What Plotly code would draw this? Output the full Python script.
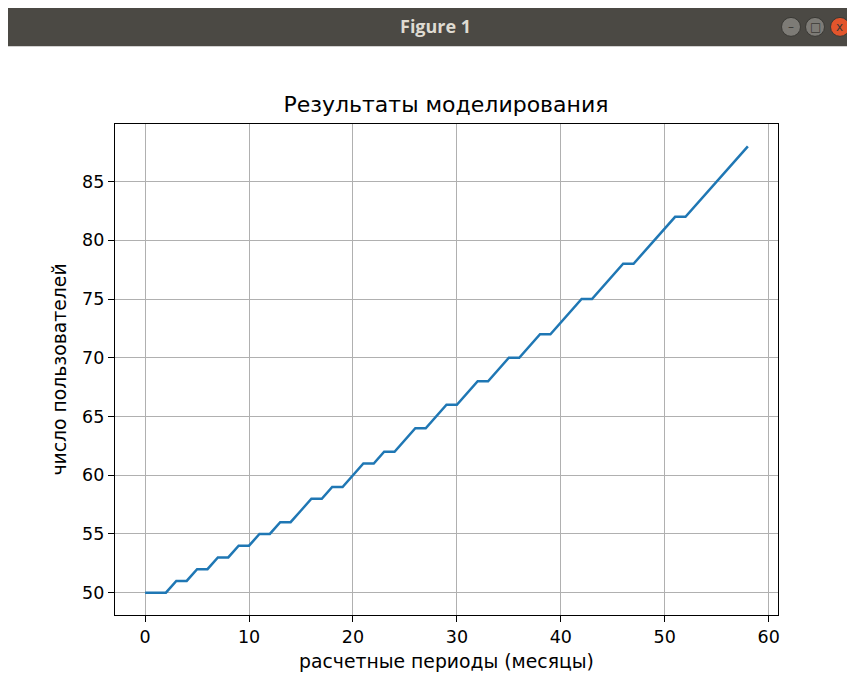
import plotly.graph_objects as go

# Data
periods = list(range(0, 59))
users = [50, 50, 50, 51, 51, 52, 52, 53, 53, 54,
         54, 55, 55, 56, 56, 57, 58, 58, 59, 59,
         60, 61, 61, 62, 62, 63, 64, 64, 65, 66,
         66, 67, 68, 68, 69, 70, 70, 71, 72, 72,
         73, 74, 75, 75, 76, 77, 78, 78, 79, 80,
         81, 82, 82, 83, 84, 85, 86, 87, 88]
x_ticks = [0, 10, 20, 30, 40, 50, 60]
y_ticks = [50, 55, 60, 65, 70, 75, 80, 85]

OFF = 8  # page body margin offset
W, H = 855 - OFF, 680 - OFF
L, R, T, B = 115 - OFF, 77, 124 - OFF, 63
pw, ph = W - L - R, H - T - B


def px(x):
    return (x - OFF - L) / pw


def py(y):
    return 1 - (y - OFF - T) / ph


fig = go.Figure()
fig.add_trace(go.Scatter(x=periods, y=users, mode="lines",
                         line=dict(color="#1f77b4", width=2.5),
                         showlegend=False, hoverinfo="x+y"))

font_family = "DejaVu Sans"
axis_common = dict(
    showgrid=True, gridcolor="#b0b0b0", gridwidth=1.1,
    showline=True, linecolor="black", linewidth=1.2, mirror=True,
    ticks="outside", ticklen=6, tickwidth=1.1, tickcolor="black",
    zeroline=False,
    tickfont=dict(family=font_family, size=17.5, color="black"),
)

fig.update_xaxes(range=[-2.9, 60.9], tickvals=x_ticks,
                 title=dict(text="расчетные периоды (месяцы)",
                            font=dict(family=font_family, size=18.8, color="black"),
                            standoff=8),
                 **axis_common)
fig.update_yaxes(range=[48.1, 89.9], tickvals=y_ticks,
                 title=dict(text="число пользователей",
                            font=dict(family=font_family, size=18.8, color="black"),
                            standoff=10),
                 **axis_common)

# Window title bar decoration
shapes = [
    dict(type="rect", xref="paper", yref="paper",
         x0=px(6), x1=px(860), y0=py(46), y1=py(0),
         fillcolor="#4b4944", line=dict(width=0), layer="above"),
]
btns = [(791, "#7d7b76"), (815, "#7d7b76"), (840, "#e2552c")]
for cx, col in btns:
    shapes.append(dict(type="circle", xref="paper", yref="paper",
                       x0=px(cx - 9.5), x1=px(cx + 9.5), y0=py(36), y1=py(17),
                       fillcolor=col, line=dict(color="#3a3935", width=1),
                       layer="above"))

annotations = [
    dict(text="<b>Figure 1</b>", xref="paper", yref="paper",
         x=px(435), y=py(26), showarrow=False,
         font=dict(family="Open Sans", size=18, color="#dfdbd2"),
         xanchor="center", yanchor="middle"),
]
for cx, sym in [(791, "–"), (815, "□"), (840, "x")]:
    annotations.append(dict(text=sym, xref="paper", yref="paper",
                            x=px(cx), y=py(26.5), showarrow=False,
                            font=dict(family=font_family, size=12, color="#3a3935"),
                            xanchor="center", yanchor="middle"))

fig.update_layout(
    width=W, height=H,
    margin=dict(l=L, r=R, t=T, b=B),
    paper_bgcolor="white", plot_bgcolor="white",
    title=dict(text="Результаты моделирования",
               font=dict(family=font_family, size=22, color="black"),
               x=(446 - OFF) / W, xanchor="center",
               y=1 - (104 - OFF) / H, yanchor="middle"),
    shapes=shapes, annotations=annotations,
)

fig.write_html("out.html")
